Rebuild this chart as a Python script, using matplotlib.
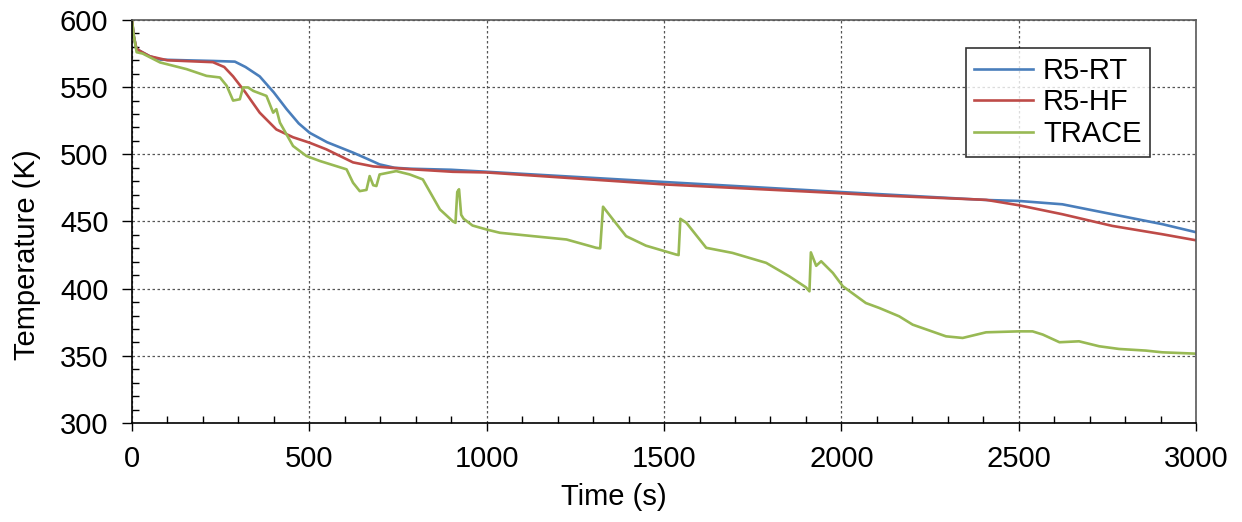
import matplotlib
matplotlib.use("Agg")
import matplotlib.pyplot as plt
from matplotlib.ticker import MultipleLocator

plt.rcParams['font.family'] = ['Liberation Sans', 'DejaVu Sans']

# R5-RT
rt_t = [0, 5, 12, 22, 50, 80, 150, 230, 290, 320, 360, 400, 436, 470, 501,
        550, 623, 660, 698, 740, 783, 900, 1000, 1500, 2000, 2408, 2500,
        2623, 2764, 2905, 3000]
rt_T = [600, 588, 579, 577, 573, 570.5, 570, 569.5, 569, 565, 558, 546,
        533.6, 523, 516, 509, 501.3, 497, 492.5, 490, 489.3, 488.5, 487,
        479.4, 471.9, 466, 465.3, 462.8, 455.4, 448, 442]

# R5-HF
hf_t = [0, 5, 12, 22, 50, 100, 154, 228, 260, 285, 320, 360, 407, 454, 500,
        548, 623, 680, 780, 904, 1000, 1500, 2000, 2107, 2408, 2500, 2623,
        2764, 2905, 3000]
hf_T = [600, 588, 579, 577, 573, 570, 569.4, 568.6, 565, 558, 546, 531,
        518.5, 512.7, 508.7, 503.7, 494, 491, 489, 487, 486.5, 477.6, 471,
        469.4, 466.1, 462.1, 455.4, 446.7, 440.5, 436]

# TRACE
tr_t = [0, 4, 13, 30, 79, 154, 210, 248, 267, 285, 304, 313, 327, 342, 379,
        398, 407, 417, 454, 492, 530, 605, 623, 642, 661, 670, 680, 689, 698,
        745, 783, 820, 868, 905, 912, 917, 922, 928, 935, 960, 1000, 1037,
        1130, 1225, 1309, 1320, 1328, 1356, 1393, 1449, 1534, 1541, 1546,
        1563, 1619, 1693, 1788, 1853, 1900, 1910, 1914, 1929, 1943, 1976,
        2004, 2069, 2107, 2163, 2201, 2295, 2342, 2408, 2500, 2539, 2568,
        2615, 2670, 2727, 2783, 2858, 2905, 3000]
tr_T = [600, 590, 576, 575, 568.4, 563.4, 558.4, 557.2, 551, 540, 541, 549.8,
        549.8, 547.2, 543.5, 531, 533.6, 523.6, 506.2, 498.7, 495, 488.8,
        478.9, 472.6, 473.5, 483.8, 477, 476.4, 485, 487.5, 485, 481.3, 459,
        450, 449, 472, 474, 455, 452, 447, 444, 441.6, 439.1, 436.6, 430.4,
        430, 461, 451.5, 439.1, 432, 425.4, 425, 452, 449, 430.4, 426.6,
        419.2, 409.2, 401, 398, 427, 417, 420.4, 411.7, 401.8, 389.3, 385.6,
        379.4, 373.2, 364.5, 363.3, 367.5, 368.2, 368.2, 365.8, 360.1, 360.8,
        357.1, 355.1, 353.9, 352.6, 351.6]

fig = plt.figure(figsize=(12.42, 5.22), dpi=100)
ax = fig.add_axes([0.1063, 0.1897, 0.8567, 0.772])

ax.plot(rt_t, rt_T, color='#4A7EBB', lw=1.9, label='R5-RT')
ax.plot(hf_t, hf_T, color='#BE4B48', lw=1.9, label='R5-HF')
ax.plot(tr_t, tr_T, color='#98B954', lw=1.9, label='TRACE')

ax.set_xlim(0, 3000)
ax.set_ylim(300, 600)
ax.xaxis.set_major_locator(MultipleLocator(500))
ax.xaxis.set_minor_locator(MultipleLocator(100))
ax.yaxis.set_major_locator(MultipleLocator(50))
ax.yaxis.set_minor_locator(MultipleLocator(10))

ax.grid(True, which='major', color='#555555', linestyle=(0, (2, 2)), lw=0.9)
ax.set_axisbelow(True)

ax.tick_params(axis='x', which='major', direction='out', length=6, width=1,
               labelsize=21, pad=10)
ax.tick_params(axis='y', which='major', direction='out', length=7, width=1,
               labelsize=21, pad=10)
ax.tick_params(which='minor', direction='in', length=5, width=1)

for s in ['left', 'bottom']:
    ax.spines[s].set_color('black')
    ax.spines[s].set_linewidth(1.2)
for s in ['top', 'right']:
    ax.spines[s].set_color('#595959')
    ax.spines[s].set_linewidth(1.2)

ax.set_xlabel('Time (s)', fontsize=21)
ax.set_ylabel('Temperature (K)', fontsize=21)
ax.xaxis.set_label_coords(0.453, -0.15)
ax.yaxis.set_label_coords(-0.086, 0.417)

leg = ax.legend(loc='upper right', bbox_to_anchor=(0.957, 0.93), fontsize=21,
                frameon=True, fancybox=False, edgecolor='black',
                handlelength=2.0, labelspacing=0.12, borderpad=0.3,
                handletextpad=0.35, borderaxespad=0)
leg.get_frame().set_linewidth(1.2)

fig.savefig('out.png', dpi=100)
